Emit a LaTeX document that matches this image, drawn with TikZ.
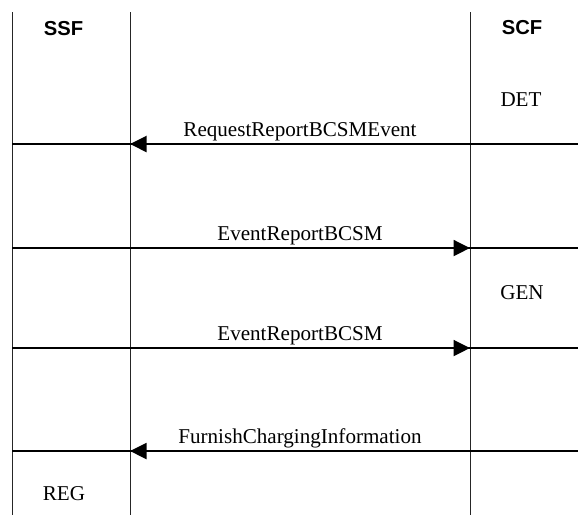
\documentclass[tikz,border=0pt]{standalone}
\usepackage{fontspec}
\setmainfont{Liberation Serif}
\setsansfont{Liberation Sans}
\usepackage{tikz}
\usetikzlibrary{arrows.meta,positioning,calc}

\begin{document}
\begin{tikzpicture}[
  lifeline/.style={line width=0.45pt, black!85},
  msg/.style={line width=1.1pt},
  arrow/.style={-{Triangle[length=0.33cm, width=0.32cm]}, line width=1.1pt},
  lbl/.style={font=\fontsize{12}{14}\selectfont, anchor=base, yshift=4pt, inner sep=0pt},
  entity/.style={font=\fontsize{11.5}{13}\selectfont\sffamily\bfseries},
  state/.style={font=\fontsize{12}{14}\selectfont},
]
\useasboundingbox (0,0) rectangle (11.56,-10.3);

% Lifelines
\coordinate (ssfL) at (0.24,-0.24);
\coordinate (ssfR) at (2.6,-0.24);
\coordinate (scfL) at (9.4,-0.24);
\coordinate (ssfLb) at (0.24,-10.3);
\coordinate (ssfRb) at (2.6,-10.3);
\coordinate (scfLb) at (9.4,-10.3);
\draw[lifeline] (ssfL) -- (ssfLb);
\draw[lifeline] (ssfR) -- (ssfRb);
\draw[lifeline] (scfL) -- (scfLb);

\node[entity] (ssf) at (1.27,-0.58) {SSF};
\node[entity] (scf) at (10.44,-0.56) {SCF};

% States
\node[state] (det) at (10.42,-2.0) {DET};
\node[state] (gen) at (10.44,-5.86) {GEN};
\node[state] (reg) at (1.28,-9.88) {REG};

% Message rows
\foreach \y/\n in {-2.88/1,-4.96/2,-6.96/3,-9.02/4} {
  \coordinate (l\n) at (0.24,\y);
  \coordinate (a\n) at (2.6,\y);
  \coordinate (b\n) at (9.4,\y);
  \coordinate (r\n) at (11.56,\y);
  \draw[msg] (l\n) -- (r\n);
}

% Messages
\draw[arrow] (b1) -- node[lbl]{RequestReportBCSMEvent} (a1);
\draw[arrow] (a2) -- node[lbl]{EventReportBCSM} (b2);
\draw[arrow] (a3) -- node[lbl]{EventReportBCSM} (b3);
\draw[arrow] (b4) -- node[lbl]{FurnishChargingInformation} (a4);

\end{tikzpicture}
\end{document}
